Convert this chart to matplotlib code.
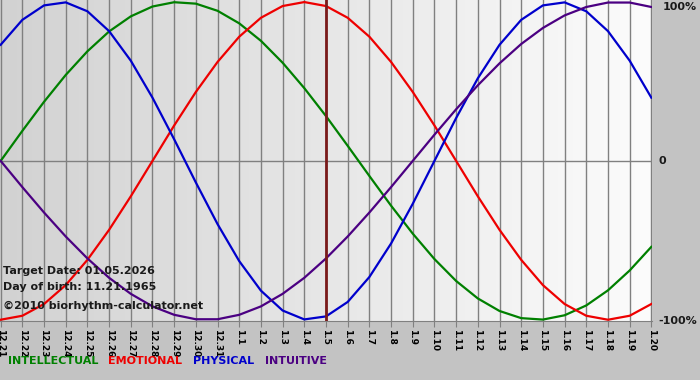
import numpy as np
from matplotlib import pyplot as plt
from matplotlib.colors import LinearSegmentedColormap

# day labels along the bottom
dates = ["12.21", "12.22", "12.23", "12.24", "12.25", "12.26", "12.27", "12.28",
         "12.29", "12.30", "12.31", "1.1", "1.2", "1.3", "1.4", "1.5", "1.6", "1.7",
         "1.8", "1.9", "1.10", "1.11", "1.12", "1.13", "1.14", "1.15", "1.16",
         "1.17", "1.18", "1.19", "1.20"]

# cycle values (-1..1) for each day
physical = [0.731, 0.888, 0.979, 0.998, 0.942, 0.817, 0.631, 0.398, 0.136, -0.136,
            -0.398, -0.631, -0.817, -0.942, -0.998, -0.979, -0.888, -0.731, -0.520,
            -0.270, 0.0, 0.270, 0.520, 0.731, 0.888, 0.979, 0.998, 0.942, 0.817,
            0.631, 0.398]
emotional = [-1.0, -0.975, -0.901, -0.782, -0.623, -0.434, -0.223, 0.0, 0.223, 0.434,
             0.623, 0.782, 0.901, 0.975, 1.0, 0.975, 0.901, 0.782, 0.623, 0.434,
             0.223, 0.0, -0.223, -0.434, -0.623, -0.782, -0.901, -0.975, -1.0,
             -0.975, -0.901]
intellectual = [0.0, 0.189, 0.372, 0.541, 0.690, 0.815, 0.910, 0.972, 0.999, 0.990,
                0.945, 0.866, 0.756, 0.618, 0.458, 0.282, 0.095, -0.095, -0.282,
                -0.458, -0.618, -0.756, -0.866, -0.945, -0.990, -0.999, -0.972,
                -0.910, -0.815, -0.690, -0.541]
intuitive = [0.0, -0.165, -0.325, -0.476, -0.614, -0.736, -0.837, -0.916, -0.969,
             -0.997, -0.997, -0.969, -0.916, -0.837, -0.736, -0.614, -0.476, -0.325,
             -0.165, 0.0, 0.165, 0.325, 0.476, 0.614, 0.736, 0.837, 0.916, 0.969,
             0.997, 0.997, 0.969]
target_day = "1.5"

days = np.arange(len(dates))

fig = plt.figure(figsize=(7, 3.8), dpi=100, facecolor="#c3c3c3")
ax = fig.add_axes([0.0, 1 - 321/380, 652/700, 321/380])

xmin, xmax = -0.03, 30.03
ymin, ymax = -1.008, 1.013
ax.set_xlim(xmin, xmax)
ax.set_ylim(ymin, ymax)

#background gradient, darker on the left
cmap = LinearSegmentedColormap.from_list("bg", ["#d2d2d2", "#fcfcfc"])
ax.imshow(np.linspace(0, 1, 256)[None, :], cmap=cmap, aspect="auto",
          extent=(xmin, xmax, ymin, ymax), zorder=0)

for d in days:
    ax.axvline(d, color="#808080", lw=1, zorder=1)
ax.axhline(0, color="#808080", lw=1, zorder=1)

ax.plot(days, intellectual, color="#008000", lw=1.6, zorder=3)
ax.plot(days, emotional, color="#ee0000", lw=1.6, zorder=3)
ax.plot(days, physical, color="#0000cc", lw=1.6, zorder=3)
ax.plot(days, intuitive, color="#4b0082", lw=1.6, zorder=3)

ax.axvline(dates.index(target_day), color="#7a1a1a", lw=2, zorder=4)

for s in ["top", "left", "right"]:
    ax.spines[s].set_visible(False)
ax.spines["bottom"].set_color("#808080")

ax.set_xticks(days)
ax.set_xticklabels(dates, rotation=270, fontsize=6.5, fontweight="bold",
                   ha="center", va="top")
ax.tick_params(axis="x", length=4, color="#808080", pad=2)
ax.set_yticks([])

txt = dict(fontsize=8, fontweight="bold", color="#1a1a1a", transform=ax.transAxes)
ax.text(3/652, 1 - 271/321, "Target Date: 01.05.2026", va="center", **txt)
ax.text(3/652, 1 - 287/321, "Day of birth: 11.21.1965", va="center", **txt)
ax.text(3/652, 1 - 306/321, "\u00a92010 biorhythm-calculator.net", va="center", **txt)

# right hand labels
rt = dict(fontsize=8, fontweight="bold", color="#1a1a1a", ha="right", va="center")
fig.text(697/700, 1 - 7/380, "100%", **rt)
fig.text(666/700, 1 - 161/380, "0", **rt)
fig.text(697/700, 1 - 321/380, "-100%", **rt)

# legend words at the bottom
legend_words = ["INTELLECTUAL", "EMOTIONAL", "PHYSICAL", "INTUITIVE"]
legend_colors = ["#008000", "#ee0000", "#0000cc", "#4b0082"]
legend_x = [8, 108, 193, 265]
for w, c, x in zip(legend_words, legend_colors, legend_x):
    fig.text(x/700, 1 - 361/380, w, color=c, fontsize=8, fontweight="bold", va="center")

plt.savefig("out.png", dpi=100, facecolor=fig.get_facecolor())
